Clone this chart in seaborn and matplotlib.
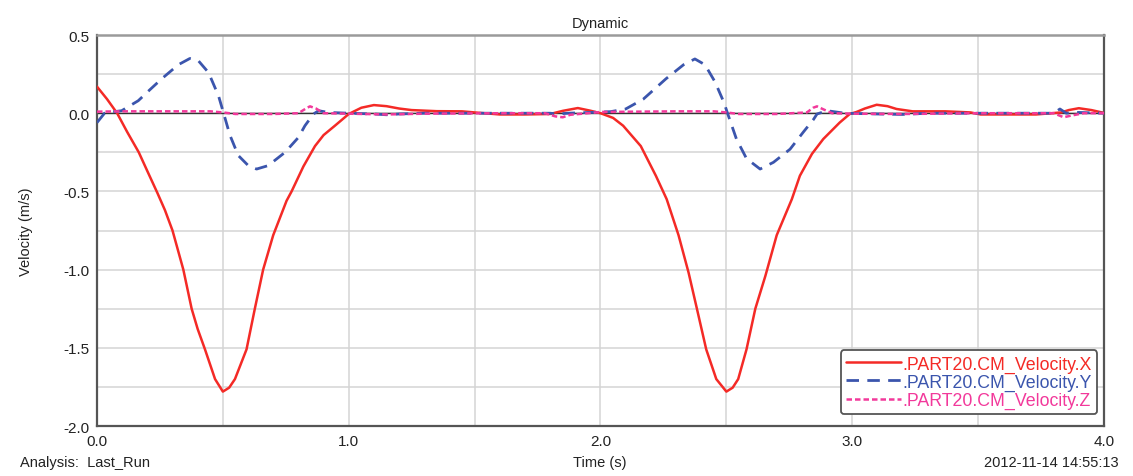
import numpy as np
import pandas as pd
import matplotlib
matplotlib.use("Agg")
import matplotlib.pyplot as plt
import seaborn as sns

# Velocity components of PART20 centre of mass over two motion cycles
vx_time = [0.0, 0.04, 0.08, 0.12, 0.166, 0.2, 0.24, 0.27, 0.30, 0.343, 0.376, 0.40,
           0.429, 0.469, 0.50, 0.525, 0.548, 0.594, 0.627, 0.66, 0.70, 0.753, 0.773,
           0.82, 0.866, 0.90, 0.945, 1.0, 1.05, 1.1, 1.15, 1.2, 1.25, 1.35, 1.45, 1.5,
           1.6, 1.7, 1.8, 1.85, 1.91, 1.96, 2.0, 2.05, 2.09, 2.16, 2.22, 2.263, 2.31,
           2.35, 2.383, 2.42, 2.46, 2.5, 2.525, 2.547, 2.58, 2.615, 2.655, 2.70, 2.76,
           2.792, 2.84, 2.885, 2.95, 2.99, 3.017, 3.05, 3.097, 3.14, 3.176, 3.24, 3.37,
           3.47, 3.51, 3.73, 3.83, 3.86, 3.9, 3.95, 4.0]
vx_value = [0.17, 0.09, 0.0, -0.12, -0.25, -0.37, -0.51, -0.62, -0.75, -1.0, -1.25, -1.38,
            -1.51, -1.70, -1.78, -1.755, -1.70, -1.51, -1.25, -1.0, -0.78, -0.56, -0.50,
            -0.34, -0.21, -0.14, -0.08, -0.005, 0.035, 0.052, 0.045, 0.03, 0.02, 0.013,
            0.012, 0.005, -0.008, -0.008, -0.005, 0.015, 0.033, 0.016, 0.0, -0.03, -0.08,
            -0.21, -0.40, -0.55, -0.78, -1.02, -1.25, -1.51, -1.70, -1.78, -1.755, -1.70,
            -1.51, -1.25, -1.04, -0.78, -0.55, -0.40, -0.26, -0.165, -0.06, -0.005, 0.008,
            0.03, 0.054, 0.045, 0.027, 0.012, 0.012, 0.005, -0.008, -0.008, 0.005, 0.02,
            0.032, 0.02, 0.002]

vy_time = [0.0, 0.03, 0.06, 0.098, 0.164, 0.21, 0.257, 0.323, 0.369, 0.403, 0.443, 0.483,
           0.502, 0.528, 0.561, 0.601, 0.634, 0.68, 0.747, 0.8, 0.826, 0.86, 0.88, 0.92,
           1.0, 1.1, 1.15, 1.2, 1.3, 1.5, 1.7, 1.8, 1.83, 1.87, 1.96, 2.04, 2.10, 2.17,
           2.26, 2.33, 2.375, 2.415, 2.455, 2.49, 2.508, 2.54, 2.58, 2.634, 2.687, 2.753,
           2.806, 2.846, 2.86, 2.9, 2.97, 3.1, 3.2, 3.3, 3.5, 3.7, 3.8, 3.825, 3.85, 3.9, 4.0]
vy_value = [-0.06, 0.0, 0.008, 0.016, 0.08, 0.15, 0.22, 0.31, 0.35, 0.335, 0.26, 0.11,
            0.005, -0.14, -0.27, -0.335, -0.357, -0.335, -0.25, -0.155, -0.08, -0.005,
            0.016, 0.005, 0.0, -0.005, -0.01, -0.005, 0.0, 0.0, 0.0, 0.0, -0.005, 0.0,
            0.005, 0.01, 0.027, 0.09, 0.22, 0.31, 0.347, 0.31, 0.2, 0.07, -0.016, -0.165,
            -0.29, -0.357, -0.314, -0.23, -0.12, -0.04, -0.005, 0.016, 0.0, -0.005, -0.008,
            0.0, 0.0, 0.0, 0.0, 0.027, 0.0, 0.005, 0.0]

vz_time = [0.0, 0.1, 0.3, 0.45, 0.5, 0.55, 0.7, 0.8, 0.83, 0.846, 0.87, 0.9, 1.0, 1.15,
           1.3, 1.6, 1.78, 1.82, 1.85, 1.88, 1.95, 2.0, 2.3, 2.45, 2.5, 2.55, 2.7, 2.82,
           2.845, 2.86, 2.885, 2.92, 3.0, 3.2, 3.5, 3.8, 3.84, 3.87, 3.92, 4.0]
vz_value = [0.01, 0.012, 0.012, 0.012, 0.005, -0.005, -0.005, 0.0, 0.03, 0.044, 0.03, 0.0,
            -0.003, -0.008, -0.003, 0.0, 0.0, -0.02, -0.026, -0.01, 0.0, 0.008, 0.012,
            0.012, 0.005, -0.005, -0.005, 0.005, 0.035, 0.044, 0.025, 0.0, -0.003, -0.005,
            0.0, 0.0, -0.026, -0.015, 0.0, 0.0]

series_names = [".PART20.CM_Velocity.X", ".PART20.CM_Velocity.Y", ".PART20.CM_Velocity.Z"]
series_colors = ["#f42a26", "#3b55ad", "#f2399b"]

x_ticks = [0.0, 1.0, 2.0, 3.0, 4.0]
x_tick_labels = ["0.0", "1.0", "2.0", "3.0", "4.0"]
y_ticks = [0.5, 0.0, -0.5, -1.0, -1.5, -2.0]
y_tick_labels = ["0.5", "0.0", "-0.5", "-1.0", "-1.5", "-2.0"]

sns.set_theme(style="white")
plt.rcParams["font.family"] = ["Liberation Sans", "DejaVu Sans"]

fig = plt.figure(figsize=(11.33, 4.77), dpi=100)
ax = fig.add_axes([0.0856, 0.1048, 0.8888, 0.8197])

ax.set_xlim(0, 4)
ax.set_ylim(-2.0, 0.5)
ax.set_xticks(np.arange(0, 4.01, 0.5), minor=True)
ax.set_yticks(np.arange(-2.0, 0.51, 0.25), minor=True)
ax.grid(True, which="both", color="#d4d4d4", linewidth=1.1)
ax.set_axisbelow(True)
ax.axhline(0, color="#333333", linewidth=1.0, zorder=1.5)

frames = [
    pd.DataFrame({"t": vx_time, "v": vx_value}),
    pd.DataFrame({"t": vy_time, "v": vy_value}),
    pd.DataFrame({"t": vz_time, "v": vz_value}),
]
styles = [
    dict(linestyle="-", linewidth=1.8),
    dict(linestyle=(0, (4.5, 3.0)), linewidth=2.0),
    dict(linestyle=(0, (2.2, 1.2)), linewidth=1.8),
]
for df, name, color, st in zip(frames, series_names, series_colors, styles):
    sns.lineplot(data=df, x="t", y="v", ax=ax, color=color, label=name,
                 estimator=None, sort=True, zorder=3, **st)

ax.set_xticks(x_ticks)
ax.set_xticklabels(x_tick_labels)
ax.set_yticks(y_ticks)
ax.set_yticklabels(y_tick_labels)
ax.tick_params(axis="both", which="major", labelsize=11, colors="#333333",
               direction="inout", length=7, width=1, pad=2)
ax.tick_params(axis="both", which="minor", direction="inout", length=5, width=1,
               color="#333333")
ax.tick_params(axis="x", labelcolor="#222222")
ax.tick_params(axis="y", labelcolor="#222222")

for side in ["left", "bottom", "right"]:
    ax.spines[side].set_color("#555555")
    ax.spines[side].set_linewidth(1.6)
ax.spines["top"].set_color("#9a9a9a")
ax.spines["top"].set_linewidth(1.8)

ax.set_xlabel("")
ax.set_ylabel("Velocity (m/s)", fontsize=10.5, color="#222222", labelpad=22)
ax.set_title("Dynamic", fontsize=10.5, color="#222222", pad=6)

fig.text(0.018, 0.022, "Analysis:  Last_Run", fontsize=10.5, color="#222222")
fig.text(0.5295, 0.022, "Time (s)", fontsize=10.5, color="#222222", ha="center")
fig.text(0.987, 0.022, "2012-11-14 14:55:13", fontsize=10.5, color="#222222", ha="right")

leg = ax.legend(loc="lower right", bbox_to_anchor=(0.9935, 0.03), fontsize=12.8,
                frameon=True, fancybox=True, edgecolor="#555555", framealpha=1,
                handlelength=3.1, handletextpad=0.1, labelspacing=0.05,
                borderpad=0.3, borderaxespad=0)
leg.get_frame().set_linewidth(1.3)
for text, color in zip(leg.get_texts(), series_colors):
    text.set_color(color)

fig.savefig("out.png", dpi=100)
